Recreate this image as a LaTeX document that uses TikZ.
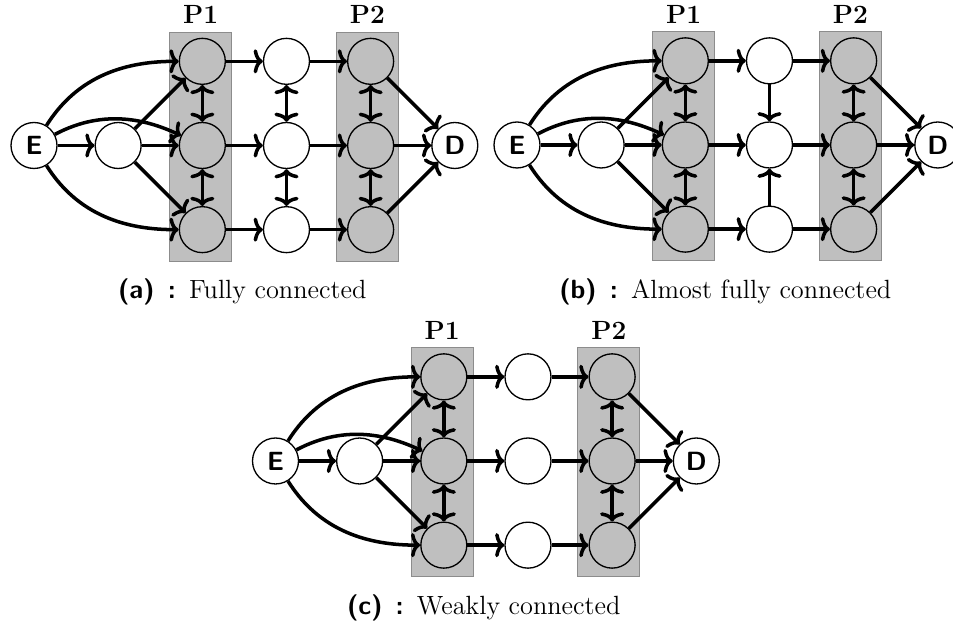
\documentclass[tikz,border=0pt]{standalone}
\usetikzlibrary{positioning,arrows.meta}

% one entry/exit network with two gray layers P1 and P2
% #1: caption label, #2: caption text
\newcommand{\flownet}[2]{%
  \node[layer] (box1) at (166.7,-1) {};
  \node[layer] (box2) at (333.3,-1) {};
  \node[title, above=0pt of box1] (t1) {P1};
  \node[title, above=0pt of box2] (t2) {P2};
  \node[wnode] (e) at (0,0) {E};
  \node[wnode, right=of e] (s) {};
  \node[gnode, right=of s] (a2) {};
  \node[gnode, above=of a2] (a1) {};
  \node[gnode, below=of a2] (a3) {};
  \node[wnode, right=of a2] (m2) {};
  \node[wnode, above=of m2] (m1) {};
  \node[wnode, below=of m2] (m3) {};
  \node[gnode, right=of m2] (b2) {};
  \node[gnode, above=of b2] (b1) {};
  \node[gnode, below=of b2] (b3) {};
  \node[wnode, right=of b2] (d) {D};
  \node[capt] (cap) at (208.3,-146.5) {{\sffamily\bfseries #1\enskip:}\enskip #2};
  % entry side
  \draw[link] (e) -- (s);
  \draw[link] (e) to[out=58,in=180] (a1);
  \draw[link] (e) to[out=28,in=155] (a2);
  \draw[link] (e) to[out=-58,in=180] (a3);
  \foreach \i in {1,2,3} {
    \draw[link] (s) -- (a\i);
    \draw[link] (a\i) -- (m\i);
    \draw[link] (m\i) -- (b\i);
    \draw[link] (b\i) -- (d);
  }
  % inside the layers
  \draw[both] (a1) -- (a2);
  \draw[both] (a2) -- (a3);
  \draw[both] (b1) -- (b2);
  \draw[both] (b2) -- (b3);
}

\begin{document}
\begin{tikzpicture}[
    x=0.016cm, y=0.016cm, node distance=0.59cm,
    wnode/.style={circle,draw,semithick,fill=white,minimum size=0.736cm,inner sep=0pt,font=\fontsize{12}{14}\sffamily\bfseries},
    gnode/.style={wnode,fill=black!25},
    layer/.style={rectangle,draw=black!45,fill=black!25,minimum width=0.992cm,minimum height=3.664cm,inner sep=0pt},
    title/.style={font=\large\bfseries},
    capt/.style={font=\large},
    link/.style={-{To[length=4.2pt,width=11pt]},line width=1.6pt},
    both/.style={{To[length=4.2pt,width=11pt]}-{To[length=4.2pt,width=11pt]},line width=1.6pt}
  ]
  \useasboundingbox (0,0) rectangle (953,625);

  \begin{scope}[shift={(34,479.5)}, name prefix=fa-]
    \flownet{(a)}{Fully connected}
    \draw[both] (m1) -- (m2);
    \draw[both] (m2) -- (m3);
  \end{scope}

  \begin{scope}[shift={(517,480)}, name prefix=fb-]
    \flownet{(b)}{Almost fully connected}
    \draw[link] (m1) -- (m2);
    \draw[link] (m3) -- (m2);
  \end{scope}

  \begin{scope}[shift={(275.5,164)}, name prefix=fc-]
    \flownet{(c)}{Weakly connected}
  \end{scope}
\end{tikzpicture}
\end{document}
